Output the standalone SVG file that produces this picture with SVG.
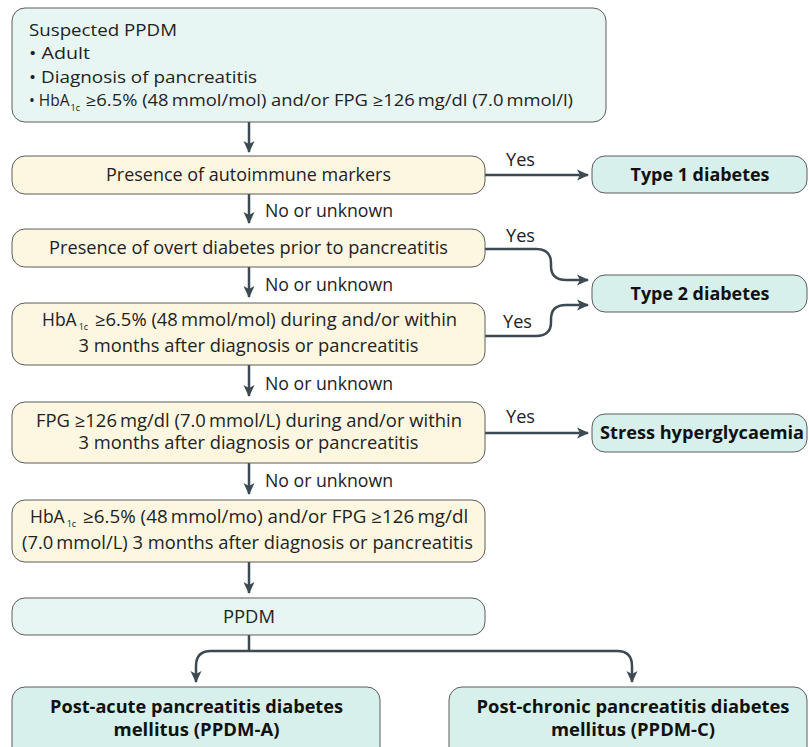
<svg xmlns="http://www.w3.org/2000/svg" width="809" height="747" viewBox="0 0 809 747">
<defs>
<marker id="ah" markerUnits="userSpaceOnUse" markerWidth="12" markerHeight="12" viewBox="0 0 12 12" refX="11" refY="6" orient="auto">
<path d="M0,0.5 L12,6 L0,11.5 L3,6 Z" fill="#3d4a52"/>
</marker>
<style>
.box{stroke:#5c5c5c;stroke-width:1}
.teal{fill:#e8f6f3}
.teal2{fill:#d8f0eb}
.yel{fill:#fdf7e1}
.conn{fill:none;stroke:#3d4a52;stroke-width:2.5}
.arr{marker-end:url(#ah)}
.t{font-family:"Open Sans","DejaVu Sans",sans-serif;font-size:15.5px;fill:#222}
.c{font-family:"Liberation Sans Narrow","Open Sans","DejaVu Sans",sans-serif;font-size:17.5px;fill:#222;text-anchor:middle}
.l{font-family:"Liberation Sans Narrow","Open Sans","DejaVu Sans",sans-serif;font-size:17.5px;fill:#222}
.b{font-family:"Open Sans","DejaVu Sans",sans-serif;font-size:18px;font-weight:bold;fill:#111;text-anchor:middle}
.sub{font-size:9px}
</style>
</defs>
<rect width="809" height="747" fill="#ffffff"/>

<g id="connectors">
<path class="conn arr" d="M249,122 V152"/>
<path class="conn arr" d="M249,194 V223"/>
<path class="conn arr" d="M249,267 V297"/>
<path class="conn arr" d="M249,365 V396"/>
<path class="conn arr" d="M249,463 V494"/>
<path class="conn arr" d="M249,562 V593"/>
<path class="conn arr" d="M485,175 H588"/>
<path class="conn arr" d="M485,249 H536 Q551,249 551,263 V266 Q551,280 566,280 H588"/>
<path class="conn arr" d="M485,336 H536 Q551,336 551,322 V319 Q551,305 566,305 H588"/>
<path class="conn arr" d="M485,433 H588"/>
<path class="conn" d="M249,635 V651"/>
<path class="conn arr" d="M249,651 H211 Q196,651 196,666 V682"/>
<path class="conn arr" d="M249,651 H617 Q632,651 632,666 V682"/>
<text class="l" x="506" y="166" textLength="29" lengthAdjust="spacingAndGlyphs">Yes</text>
<text class="l" x="506" y="242" textLength="29" lengthAdjust="spacingAndGlyphs">Yes</text>
<text class="l" x="503" y="328" textLength="29" lengthAdjust="spacingAndGlyphs">Yes</text>
<text class="l" x="506" y="423" textLength="29" lengthAdjust="spacingAndGlyphs">Yes</text>
<text class="l" x="265" y="217" textLength="128" lengthAdjust="spacingAndGlyphs">No or unknown</text>
<text class="l" x="265" y="291" textLength="128" lengthAdjust="spacingAndGlyphs">No or unknown</text>
<text class="l" x="265" y="390" textLength="128" lengthAdjust="spacingAndGlyphs">No or unknown</text>
<text class="l" x="265" y="487" textLength="128" lengthAdjust="spacingAndGlyphs">No or unknown</text>
</g>

<g id="suspected">
<rect class="box teal" x="12" y="8" width="594" height="114" rx="13"/>
<text class="t" x="29" y="36" textLength="148" lengthAdjust="spacingAndGlyphs">Suspected PPDM</text>
<text class="t" x="29" y="59" textLength="61" lengthAdjust="spacingAndGlyphs">• Adult</text>
<text class="t" x="29" y="83" textLength="228" lengthAdjust="spacingAndGlyphs">• Diagnosis of pancreatitis</text>
<text class="t" x="29" y="106">• HbA<tspan class="sub" dx="1" dy="5">1c</tspan><tspan dx="1" dy="-5" textLength="492" lengthAdjust="spacingAndGlyphs"> ≥6.5% (48&#8201;mmol/mol) and/or FPG ≥126&#8201;mg/dl (7.0&#8201;mmol/l)</tspan></text>
</g>

<g id="autoimmune">
<rect class="box yel" x="12" y="156" width="473" height="38" rx="13"/>
<text class="c" x="248.5" y="181" textLength="285" lengthAdjust="spacingAndGlyphs">Presence of autoimmune markers</text>
</g>

<g id="type1">
<rect class="box teal2" x="592" y="156" width="215" height="37" rx="13"/>
<text class="b" x="700" y="181" textLength="139" lengthAdjust="spacingAndGlyphs">Type 1 diabetes</text>
</g>

<g id="overt">
<rect class="box yel" x="12" y="229" width="473" height="38" rx="13"/>
<text class="c" x="248.5" y="254" textLength="399" lengthAdjust="spacingAndGlyphs">Presence of overt diabetes prior to pancreatitis</text>
</g>

<g id="type2">
<rect class="box teal2" x="592" y="275" width="215" height="37" rx="13"/>
<text class="b" x="700" y="300" textLength="139" lengthAdjust="spacingAndGlyphs">Type 2 diabetes</text>
</g>

<g id="hba1c">
<rect class="box yel" x="12" y="303" width="473" height="62" rx="13"/>
<text class="l" x="42" y="326">HbA<tspan class="sub" dx="2" dy="4">1c</tspan><tspan dx="2" dy="-4" textLength="367" lengthAdjust="spacingAndGlyphs"> ≥6.5% (48&#8201;mmol/mol) during and/or within</tspan></text>
<text class="c" x="248.5" y="352" textLength="340" lengthAdjust="spacingAndGlyphs">3 months after diagnosis or pancreatitis</text>
</g>

<g id="fpg">
<rect class="box yel" x="12" y="402" width="473" height="61" rx="13"/>
<text class="c" x="249" y="427" textLength="426" lengthAdjust="spacingAndGlyphs">FPG ≥126&#8201;mg/dl (7.0&#8201;mmol/L) during and/or within</text>
<text class="c" x="248.5" y="449" textLength="340" lengthAdjust="spacingAndGlyphs">3 months after diagnosis or pancreatitis</text>
</g>

<g id="stress">
<rect class="box teal2" x="592" y="414" width="215" height="38" rx="13"/>
<text class="b" x="702" y="439" textLength="204" lengthAdjust="spacingAndGlyphs">Stress hyperglycaemia</text>
</g>

<g id="after3">
<rect class="box yel" x="12" y="500" width="473" height="62" rx="13"/>
<text class="l" x="30" y="523">HbA<tspan class="sub" dx="2" dy="4">1c</tspan><tspan dx="2" dy="-4" textLength="390" lengthAdjust="spacingAndGlyphs"> ≥6.5% (48&#8201;mmol/mo) and/or FPG ≥126&#8201;mg/dl</tspan></text>
<text class="c" x="247.5" y="549" textLength="451" lengthAdjust="spacingAndGlyphs">(7.0&#8201;mmol/L) 3 months after diagnosis or pancreatitis</text>
</g>

<g id="ppdm">
<rect class="box teal" x="12" y="598" width="473" height="37" rx="13"/>
<text class="c" x="249" y="623" textLength="52" lengthAdjust="spacingAndGlyphs">PPDM</text>
</g>

<g id="ppdm-a">
<rect class="box teal2" x="12" y="687" width="368" height="75" rx="13"/>
<text class="b" x="196.5" y="713" textLength="293" lengthAdjust="spacingAndGlyphs">Post-acute pancreatitis diabetes</text>
<text class="b" x="196.5" y="736" textLength="166" lengthAdjust="spacingAndGlyphs">mellitus (PPDM-A)</text>
</g>

<g id="ppdm-c">
<rect class="box teal2" x="449" y="687" width="358" height="75" rx="13"/>
<text class="b" x="633" y="713" textLength="313" lengthAdjust="spacingAndGlyphs">Post-chronic pancreatitis diabetes</text>
<text class="b" x="633" y="736" textLength="164" lengthAdjust="spacingAndGlyphs">mellitus (PPDM-C)</text>
</g>
</svg>
